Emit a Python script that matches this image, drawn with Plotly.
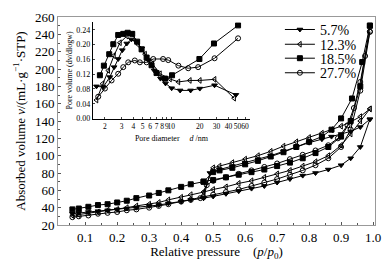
import plotly.graph_objects as go

# ---------------- main isotherm data ----------------
samples = ["5.7%", "12.3%", "18.5%", "27.7%"]
p_ads = [0.06, 0.08, 0.11, 0.14, 0.17, 0.2, 0.23, 0.26, 0.3, 0.33, 0.36, 0.4, 0.43, 0.47,
         0.5, 0.54, 0.58, 0.62, 0.66, 0.7, 0.74, 0.78, 0.82, 0.86, 0.9, 0.93, 0.96, 0.99]
ads_57 = [33, 34, 35, 36, 37, 38, 39, 40, 42, 43, 45, 47, 49, 51,
          53, 56, 59, 62, 65, 69, 73, 77, 80, 84, 89, 97, 110, 142]
ads_123 = [31, 32, 34, 35, 37, 38, 40, 42, 44, 46, 49, 52, 55, 58,
           61, 64, 68, 71, 75, 79, 83, 88, 93, 100, 112, 125, 140, 154]
ads_185 = [38, 39, 41, 43, 44, 46, 48, 51, 54, 57, 60, 64, 67, 70,
           72, 75, 78, 81, 84, 88, 92, 97, 103, 110, 122, 140, 180, 250]
ads_277 = [29, 30, 31, 33, 34, 35, 37, 38, 40, 42, 44, 47, 49, 52,
           55, 58, 61, 65, 69, 73, 78, 83, 89, 97, 110, 130, 175, 243]

p_des_57 = [0.99, 0.96, 0.93, 0.9, 0.87, 0.84, 0.8, 0.76, 0.72, 0.68, 0.64, 0.6, 0.56, 0.52, 0.49, 0.47]
des_57 = [142, 133, 128, 125, 122, 119, 115, 110, 105, 100, 96, 92, 88, 84, 80, 51]
p_des_123 = [0.99, 0.96, 0.93, 0.9, 0.87, 0.84, 0.8, 0.76, 0.72, 0.68, 0.64, 0.6, 0.56, 0.52, 0.5, 0.47]
des_123 = [154, 145, 139, 134, 130, 126, 121, 116, 111, 105, 100, 96, 92, 88, 86, 58]
p_des_185 = [0.99, 0.966, 0.934, 0.9, 0.87, 0.84, 0.8, 0.76, 0.72, 0.68, 0.64, 0.6, 0.56, 0.52, 0.5, 0.47]
des_185 = [250, 208, 166, 143, 130, 122, 116, 110, 104, 99, 94, 90, 86, 83, 81, 70]
p_des_277 = [0.99, 0.975, 0.96, 0.94, 0.92, 0.89, 0.86, 0.82, 0.78, 0.74, 0.7, 0.66, 0.62, 0.58, 0.54, 0.5, 0.48, 0.46]
des_277 = [243, 215, 185, 155, 135, 120, 112, 106, 101, 96, 91, 87, 83, 79, 75, 71, 66, 51]

# ---------------- inset pore-size distribution data ----------------
d_57 = [1.63, 1.92, 2.25, 2.5, 2.76, 3.05, 3.4, 3.8, 4.3, 4.9, 5.7, 6.6, 7.7, 8.7, 10.1, 12.4, 16, 20, 28.6, 48]
pv_57 = [0.087, 0.085, 0.112, 0.139, 0.161, 0.185, 0.203, 0.214, 0.207, 0.19, 0.158, 0.13, 0.108, 0.095, 0.082,
         0.076, 0.076, 0.081, 0.09, 0.064]
d_123 = [1.63, 1.89, 2.17, 2.49, 2.88, 3.4, 3.92, 4.49, 5.3, 6.3, 7.6, 9.7, 11.9, 15.7, 20, 28.6, 46]
pv_123 = [0.05, 0.094, 0.13, 0.17, 0.205, 0.223, 0.228, 0.2, 0.174, 0.148, 0.121, 0.107, 0.099, 0.103, 0.103,
          0.106, 0.055]
d_185 = [1.77, 1.95, 2.22, 2.45, 2.76, 3.12, 3.47, 3.88, 4.37, 4.87, 5.5, 6.2, 7.0, 8.6, 10.2, 19.8, 28.2, 50.6]
pv_185 = [0.117, 0.143, 0.174, 0.201, 0.226, 0.229, 0.232, 0.229, 0.208, 0.187, 0.165, 0.144, 0.123, 0.108, 0.117,
          0.161, 0.203, 0.252]
d_277 = [1.7, 2.0, 2.35, 2.76, 3.12, 3.52, 4.13, 4.67, 5.5, 6.46, 8.2, 9.3, 11.9, 15.1, 19.2, 28.6, 50.6]
pv_277 = [0.059, 0.081, 0.103, 0.121, 0.139, 0.152, 0.157, 0.152, 0.152, 0.161, 0.161, 0.158, 0.143, 0.136, 0.139,
          0.163, 0.217]

x_ticks = [0.1, 0.2, 0.3, 0.4, 0.5, 0.6, 0.7, 0.8, 0.9, 1.0]
x_ticktext = ["0.1", "0.2", "0.3", "0.4", "0.5", "0.6", "0.7", "0.8", "0.9", "1.0"]
y_ticks = [20, 40, 60, 80, 100, 120, 140, 160, 180, 200, 220, 240, 260]
inset_x_ticks = [2, 3, 4, 5, 6, 7, 8, 9, 10, 20, 30, 40, 50, 60]
inset_y_ticks = [0.0, 0.04, 0.08, 0.12, 0.16, 0.20, 0.24]

symbols = {"5.7%": "triangle-down", "12.3%": "triangle-left-open", "18.5%": "square", "27.7%": "circle-open"}
main_sets = {
    "5.7%": (p_ads + p_des_57, ads_57 + des_57),
    "12.3%": (p_ads + p_des_123, ads_123 + des_123),
    "18.5%": (p_ads + p_des_185, ads_185 + des_185),
    "27.7%": (p_ads + p_des_277, ads_277 + des_277),
}
inset_sets = {
    "5.7%": (d_57, pv_57),
    "12.3%": (d_123, pv_123),
    "18.5%": (d_185, pv_185),
    "27.7%": (d_277, pv_277),
}
legend_ids = ["legend", "legend2", "legend3", "legend4"]
legend_y = [0.938, 0.867, 0.800, 0.730]

SERIF = "Liberation Serif, Times New Roman, serif"
fig = go.Figure()
for s, lid in zip(samples, legend_ids):
    x, y = main_sets[s]
    fig.add_trace(go.Scatter(
        x=x, y=y, mode="lines+markers", name=s, legend=lid,
        line=dict(color="black", width=1),
        marker=dict(symbol=symbols[s], size=5, color="black", line=dict(color="black", width=1)),
    ))
for s in samples:
    x, y = inset_sets[s]
    fig.add_trace(go.Scatter(
        x=x, y=y, mode="lines+markers", showlegend=False, xaxis="x2", yaxis="y2",
        line=dict(color="black", width=1),
        marker=dict(symbol=symbols[s], size=5, color="black", line=dict(color="black", width=1)),
    ))

legend_common = dict(x=0.70, xanchor="left", yanchor="middle", bgcolor="rgba(0,0,0,0)",
                     font=dict(family=SERIF, size=14), itemwidth=30, borderwidth=0)
legends = {lid: dict(legend_common, y=ly) for lid, ly in zip(legend_ids, legend_y)}

# the page body has an 8px default margin, so the figure is sized to fit the 391x261 window
fig.update_layout(
    width=383, height=253,
    margin=dict(l=50, r=16, t=6, b=36),
    paper_bgcolor="white", plot_bgcolor="white",
    font=dict(family=SERIF, size=13, color="black"),
    showlegend=True,
    **legends,
    xaxis=dict(range=[0.015, 1.006], tickvals=x_ticks, ticktext=x_ticktext, automargin=False,
               showline=True, linecolor="#999", linewidth=1, mirror=True,
               ticks="inside", ticklen=3, tickcolor="#555", showgrid=False, zeroline=False,
               minor=dict(ticks="inside", ticklen=2, dtick=0.05, tickcolor="#555"),
               title=dict(text="Relative pressure    (<i>p</i>/<i>p</i><sub>0</sub>)", standoff=2,
                          font=dict(size=13))),
    yaxis=dict(range=[20, 260], tickvals=y_ticks, automargin=False,
               showline=True, linecolor="#999", linewidth=1, mirror=True,
               ticks="inside", ticklen=3, tickcolor="#555", showgrid=False, zeroline=False,
               minor=dict(ticks="inside", ticklen=2, dtick=10, tickcolor="#555"),
               title=dict(text="Absorbed volume <i>v</i>/(mL·g<sup>−1</sup>·STP)", standoff=6,
                          font=dict(size=13))),
    xaxis2=dict(type="log", domain=[0.110, 0.606], anchor="y2",
                range=[0.174, 1.831], tickvals=inset_x_ticks, ticktext=[str(t) for t in inset_x_ticks],
                tickangle=0,
                showline=True, linecolor="black", linewidth=1, ticks="inside", ticklen=2,
                showgrid=False, zeroline=False, tickfont=dict(size=7.5), ticklabelstandoff=0,
                title=dict(text="Pore diameter     <i>d</i> /nm", font=dict(size=8), standoff=5)),
    yaxis2=dict(domain=[0.512, 0.974], anchor="x2", range=[0, 0.26], tickvals=inset_y_ticks,
                tickformat=".2f", showline=True, linecolor="black", linewidth=1,
                ticks="inside", ticklen=2, showgrid=False, zeroline=False, tickfont=dict(size=8),
                title=dict(text="Pore volume (dv/dlogw)", font=dict(size=8), standoff=2)),
)

fig.write_html("out.html")
